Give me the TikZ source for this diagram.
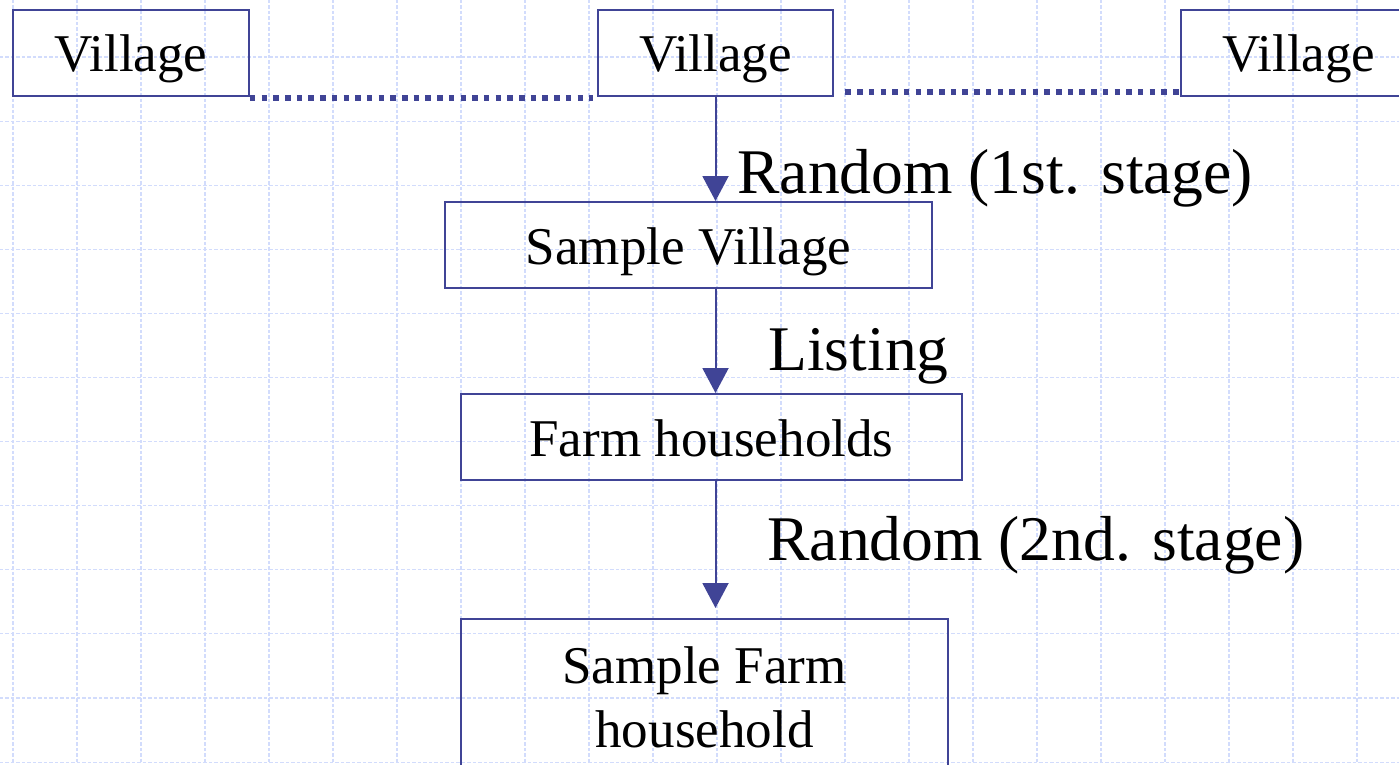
\documentclass[tikz,border=0pt]{standalone}
\usepackage{fontspec}
\setmainfont{Liberation Serif}
\usetikzlibrary{arrows.meta,positioning,calc}
\definecolor{linkblue}{RGB}{64,68,150}
\definecolor{gridblue}{RGB}{210,220,252}
\newcommand{\boxsize}{\fontsize{30.2}{36.4}\selectfont}
\newcommand{\stepsize}{\fontsize{36.2}{44}\selectfont}
\tikzset{
block/.style = {draw=linkblue, line width=0.04cm, rectangle, minimum height=1.72cm, text height=1.06cm, text depth=0.3cm, inner sep=0pt, font=\boxsize},
tallblock/.style = {draw=linkblue, line width=0.04cm, rectangle, align=center, inner xsep=0pt, inner ysep=0.56cm, font=\boxsize},
steplabel/.style = {anchor=base west, inner sep=0pt, font=\stepsize},
link/.style = {draw=linkblue, line width=0.04cm, ->},
dots/.style = {draw=linkblue, line width=0.11cm, dash pattern=on 0.11cm off 0.124cm},
gridline/.style = {draw=gridblue, line width=0.022cm, dash pattern=on 0.07cm off 0.04cm}
}

\begin{document}
\begin{tikzpicture}[x=0.02cm, y=-0.02cm, >={Triangle[length=0.5cm,width=0.52cm]}]
		\useasboundingbox (0,0) rectangle (1399,764);
		\clip (0,0) rectangle (1399,764);

		% background grid
		\foreach \gx in {0,...,21}
			\draw [gridline] ({13+64*\gx},0) -- ({13+64*\gx},764);
		\foreach \gy in {0,...,11}
			\draw [gridline] (0,{57+64.1*\gy}) -- (1399,{57+64.1*\gy});

		\node [block, minimum width=4.72cm] at (131,53) (village1) {Village};
		\node [block, minimum width=4.72cm] at (715.5,53) (village2) {Village};
		\node [block, minimum width=4.72cm] at (1299,53) (village3) {Village};

		\node [block, minimum width=9.74cm] at (688.5,245) (svillage) {Sample Village};
		\node [block, minimum width=10.02cm] at (711.5,437) (farms) {Farm households};
		\node [tallblock, minimum width=9.74cm, anchor=north] at (704.5,618) (sfarm) {Sample Farm\\household};

		\draw [dots] ([yshift=-0.02cm]village1.south east) -- ([xshift=-0.08cm,yshift=-0.02cm]village2.south west);
		\draw [dots] ([xshift=0.22cm,yshift=0.1cm]village2.south east) -- ([xshift=0.08cm,yshift=0.1cm]village3.south west);

		\draw [link] (village2.south) -- (village2.south |- svillage.north);
		\draw [link] (svillage.south -| village2.south) -- (farms.north -| village2.south);
		\draw [link, shorten >=0.2cm] (farms.south -| village2.south) -- (sfarm.north -| village2.south);

		\node [steplabel] at (737,193) (first) {Random (1st. stage)};
		\node [steplabel] at (768,370) (listing) {Listing};
		\node [steplabel] at (767,560) (second) {Random (2nd. stage)};
\end{tikzpicture}
\end{document}
